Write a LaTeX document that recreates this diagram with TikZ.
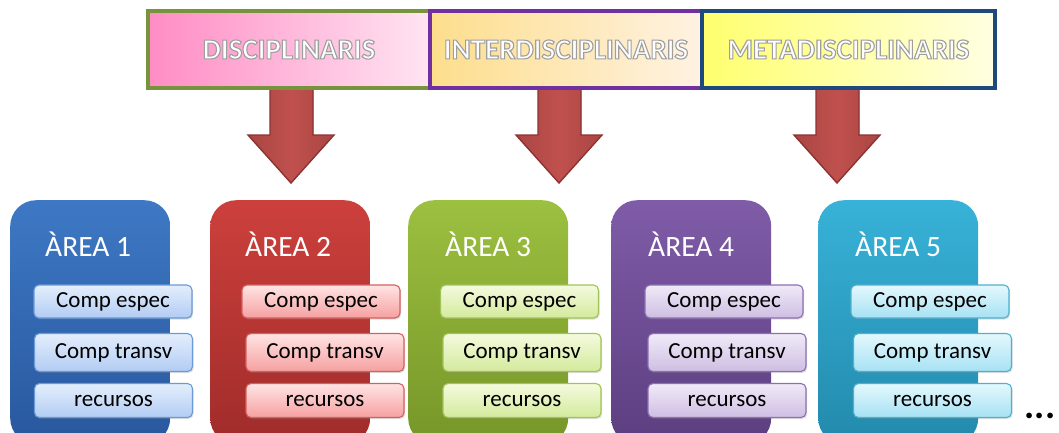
\documentclass[tikz,border=0pt]{standalone}
\usepackage{fontspec}
\setmainfont{Carlito}
\usetikzlibrary{shadows}
\definecolor{arrF}{HTML}{C0504D}
\definecolor{arrD}{HTML}{8C3331}
\tikzset{
  area/.style={rounded corners=26pt, minimum width=160pt, minimum height=244pt, anchor=north west, inner sep=0pt},
  atitle/.style={anchor=base west, text=white, font=\fontsize{29.5}{29.5}\selectfont, inner sep=0pt},
  item/.style={draw, rounded corners=5pt, line width=1.1pt, minimum width=158pt, inner sep=0pt,
     font=\fontsize{23}{23}\selectfont, text=black,
     drop shadow={shadow xshift=1.2pt, shadow yshift=-1.5pt, opacity=0.25}},
  tbox/.style={draw, line width=3.2pt, minimum height=77pt, inner sep=0pt},
  ttext/.style={font=\bfseries\fontsize{29}{29}\selectfont, inner sep=0pt, text=white},
  arrow/.style={draw=arrD, line width=1.4pt, left color=arrF!88!black, right color=arrF!88!black, middle color=arrF},
}
\newcommand{\outl}[1]{\special{pdf:literal direct 2 Tr 1.1 w 0.62 0.62 0.62 RG}#1\special{pdf:literal direct 0 Tr}}
\begin{document}
\begin{tikzpicture}[x=1pt,y=-1pt]
\useasboundingbox (0,0) rectangle (1059,432);
\clip (0,0) rectangle (1059,432);

% arrows
\fill[arrow] (270,88) -- (270,135) -- (248,135) -- (291,183) -- (334,135) -- (313,135) -- (313,88) -- cycle;
\fill[arrow] (538,88) -- (538,135) -- (516,135) -- (559,183) -- (602,135) -- (581,135) -- (581,88) -- cycle;
\fill[arrow] (816,88) -- (816,135) -- (794,135) -- (837,183) -- (880,135) -- (859,135) -- (859,88) -- cycle;

% top boxes
\node[tbox, draw={rgb,255:red,119;green,147;blue,60}, minimum width=282pt,
      left color={rgb,255:red,255;green,140;blue,196}, right color={rgb,255:red,255;green,228;blue,242}] (t1) at (289,49.5) {};
\node[tbox, draw={rgb,255:red,112;green,48;blue,160}, minimum width=272pt,
      left color={rgb,255:red,253;green,222;blue,140}, right color={rgb,255:red,255;green,242;blue,226}] (t2) at (566,49.5) {};
\node[tbox, draw={rgb,255:red,31;green,73;blue,125}, minimum width=293pt,
      left color={rgb,255:red,255;green,255;blue,110}, right color={rgb,255:red,255;green,255;blue,226}] (t3) at (848.5,49.5) {};
\node[ttext] (l1) at (t1.center) {\outl{DISCIPLINARIS}};
\node[ttext] (l2) at (t2.center) {\outl{INTERDISCIPLINARIS}};
\node[ttext] (l3) at (t3.center) {\outl{METADISCIPLINARIS}};

% areas
\node[area, top color={rgb,255:red,62;green,120;blue,196}, bottom color={rgb,255:red,40;green,88;blue,158}] (a1) at (10,200) {};
\node[area, top color={rgb,255:red,204;green,64;blue,60}, bottom color={rgb,255:red,160;green,44;blue,42}] (a2) at (210,200) {};
\node[area, top color={rgb,255:red,156;green,192;blue,64}, bottom color={rgb,255:red,118;green,150;blue,40}] (a3) at (408,200) {};
\node[area, top color={rgb,255:red,128;green,92;blue,168}, bottom color={rgb,255:red,92;green,62;blue,128}] (a4) at (611,200) {};
\node[area, top color={rgb,255:red,56;green,178;blue,216}, bottom color={rgb,255:red,34;green,138;blue,172}] (a5) at (818,200) {};

\node[atitle] (h1) at (45,256) {ÀREA 1};
\node[atitle] (h2) at (245,256) {ÀREA 2};
\node[atitle] (h3) at (445,256) {ÀREA 3};
\node[atitle] (h4) at (648,256) {ÀREA 4};
\node[atitle] (h5) at (855,256) {ÀREA 5};

% items
\foreach \n/\ex/\ox/\dr/\top/\bot in {
   1/113/113.5/{rgb,255:red,106;green,154;blue,216}/{rgb,255:red,228;green,238;blue,252}/{rgb,255:red,178;green,204;blue,244},
   2/321/325/{rgb,255:red,214;green,96;blue,96}/{rgb,255:red,255;green,228;blue,228}/{rgb,255:red,246;green,160;blue,160},
   3/519.5/522/{rgb,255:red,160;green,196;blue,90}/{rgb,255:red,244;green,250;blue,222}/{rgb,255:red,212;green,234;blue,156},
   4/724/727/{rgb,255:red,140;green,112;blue,178}/{rgb,255:red,240;green,234;blue,248}/{rgb,255:red,206;green,190;blue,226},
   5/930/932.5/{rgb,255:red,80;green,176;blue,206}/{rgb,255:red,228;green,248;blue,253}/{rgb,255:red,166;green,226;blue,244}} {
  \node[item, draw=\dr, top color=\top, bottom color=\bot, minimum height=33pt] (e\n) at (\ex,301.5) {Comp espec};
  \node[item, draw=\dr, top color=\top, bottom color=\bot, minimum height=38pt] (c\n) at (\ox,352.5) {Comp transv};
  \node[item, draw=\dr, top color=\top, bottom color=\bot, minimum height=34pt] (r\n) at (\ox,400.5) {recursos};
}

\node[font=\bfseries\fontsize{38}{38}\selectfont, inner sep=0pt, anchor=base] (dots) at (1040,418) {...};
\end{tikzpicture}
\end{document}
